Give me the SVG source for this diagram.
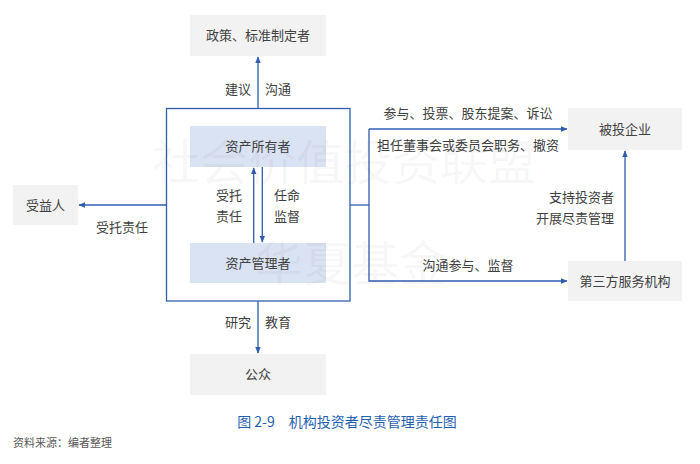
<svg xmlns="http://www.w3.org/2000/svg" width="700" height="464" viewBox="0 0 700 464">
<style>
text{font-family:"Noto Sans CJK SC","Noto Sans",sans-serif;fill:#404040;font-size:13px}
.c{text-anchor:middle}
.gray{fill:#f2f2f2}
.blue{fill:#dae3f3}
.ln{stroke:#2f5eb0;stroke-width:1.3;fill:none}
.wm{font-size:48px;fill:#000;fill-opacity:0.045}
</style>
<defs>
<marker id="ah" viewBox="0 0 10 10" refX="9" refY="5" markerWidth="7" markerHeight="7" orient="auto" markerUnits="userSpaceOnUse">
<path d="M0,1 L10,5 L0,9 z" fill="#2f5eb0"/>
</marker>
</defs>
<rect width="700" height="464" fill="#fff"/>

<g id="main-frame"><rect x="166.5" y="108.5" width="183.5" height="192.5" class="ln"/></g>

<g id="policy"><rect x="190" y="15" width="136" height="41" class="gray"/><text x="258" y="40" class="c">政策、标准制定者</text></g>
<g id="owner"><rect x="190" y="126" width="136" height="41" class="blue"/><text x="258" y="151" class="c">资产所有者</text></g>
<g id="manager"><rect x="190" y="243" width="136" height="40" class="blue"/><text x="258" y="268" class="c">资产管理者</text></g>
<g id="beneficiary"><rect x="13" y="185" width="65" height="40" class="gray"/><text x="45.5" y="210" class="c">受益人</text></g>
<g id="public"><rect x="190" y="354" width="136" height="41" class="gray"/><text x="258" y="379" class="c">公众</text></g>
<g id="investee"><rect x="568" y="108" width="114" height="42" class="gray"/><text x="625" y="134" class="c">被投企业</text></g>
<g id="thirdparty"><rect x="568" y="261" width="114" height="40" class="gray"/><text x="625" y="286" class="c">第三方服务机构</text></g>

<g id="connectors">
<line x1="258" y1="108.5" x2="258" y2="57" class="ln" marker-end="url(#ah)"/>
<line x1="253.7" y1="243" x2="253.7" y2="168" class="ln" marker-end="url(#ah)"/>
<line x1="262.3" y1="167" x2="262.3" y2="242" class="ln" marker-end="url(#ah)"/>
<line x1="166.5" y1="205" x2="79" y2="205" class="ln" marker-end="url(#ah)"/>
<line x1="258" y1="301" x2="258" y2="353" class="ln" marker-end="url(#ah)"/>
<line x1="350" y1="205" x2="369" y2="205" class="ln"/>
<polyline points="369,129 369,281 567,281" class="ln" marker-end="url(#ah)"/>
<line x1="369" y1="129" x2="567" y2="129" class="ln" marker-end="url(#ah)"/>
<line x1="625" y1="261" x2="625" y2="151" class="ln" marker-end="url(#ah)"/>
</g>

<g id="labels">
<text x="238" y="94" class="c">建议</text>
<text x="278" y="94" class="c">沟通</text>
<text x="229" y="200" class="c">受托</text>
<text x="229" y="221" class="c">责任</text>
<text x="287" y="200" class="c">任命</text>
<text x="287" y="221" class="c">监督</text>
<text x="122" y="232" class="c">受托责任</text>
<text x="238" y="327" class="c">研究</text>
<text x="278" y="327" class="c">教育</text>
<text x="468" y="118" class="c">参与、投票、股东提案、诉讼</text>
<text x="468" y="150" class="c">担任董事会或委员会职务、撤资</text>
<text x="614" y="202" text-anchor="end">支持投资者</text>
<text x="614" y="223" text-anchor="end">开展尽责管理</text>
<text x="468" y="270" class="c">沟通参与、监督</text>
</g>

<g id="watermark">
<text x="152" y="180" class="wm">社会价值投资联盟</text>
<text x="255" y="281" class="wm">华夏基金</text>
</g>

<text x="347" y="427" class="c" style="fill:#1f5fb0;font-size:14px">图 2-9　机构投资者尽责管理责任图</text>
<text x="13" y="447" style="font-size:11px;fill:#595959">资料来源：编者整理</text>
</svg>
